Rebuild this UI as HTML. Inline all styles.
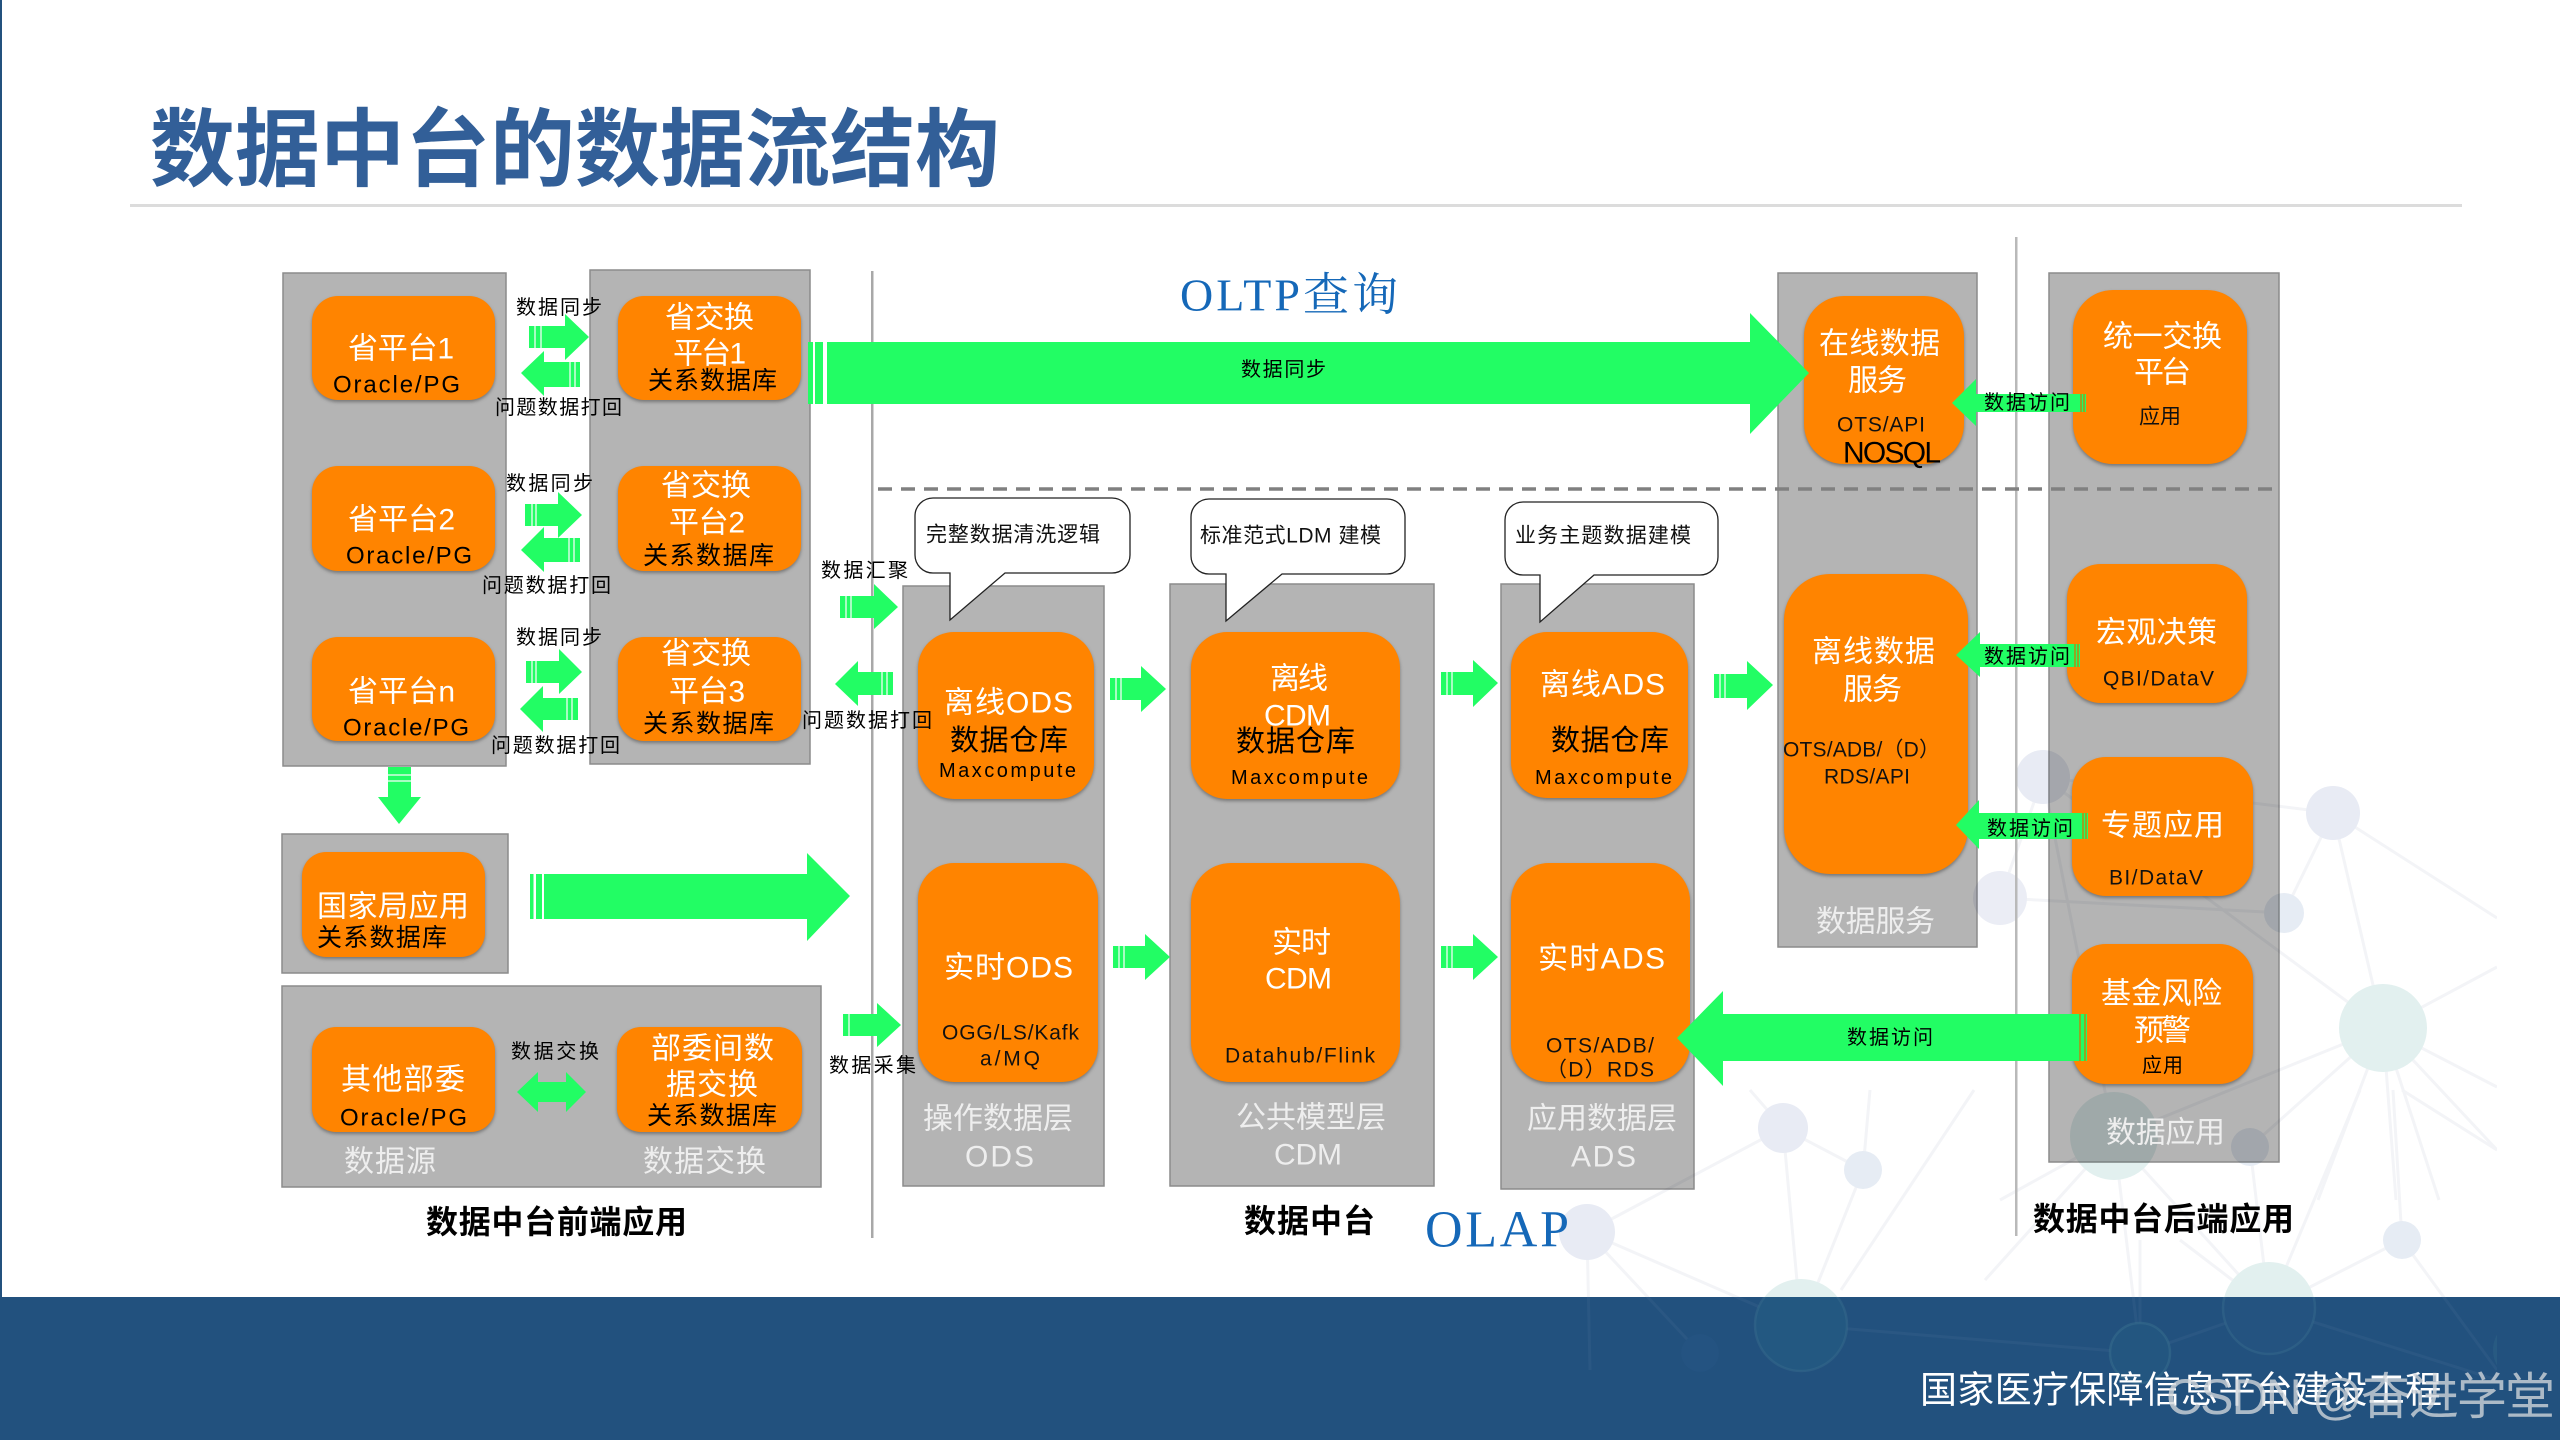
<!DOCTYPE html>
<html lang="zh-CN">
<head>
<meta charset="utf-8">
<title>数据中台的数据流结构</title>
<style>
html,body{margin:0;padding:0;background:#fff;width:2560px;height:1440px;overflow:hidden}
svg{display:block;position:absolute;left:0;top:0}
text{font-family:"Liberation Sans","Noto Sans CJK SC",sans-serif;dominant-baseline:central;transform:translateY(1px)}
.g{fill:#b4b4b4;stroke:#8b8b8b;stroke-width:1.5;mix-blend-mode:multiply}
.o{fill:#ff8400;filter:drop-shadow(0 2px 1.5px rgba(70,70,70,.55))}
.a{fill:#22fd64}
.s{stroke:#a8fcc2;stroke-width:2}
.d{stroke:#b98a10;stroke-width:1.5}
.w{fill:#fff;font-size:30px}
.wl{fill:#eee;font-size:30px}
.k{fill:#000;font-size:25px}
.l{fill:#000;font-size:20px}
.c{fill:#111;font-size:21px}
.m{fill:#111;font-size:21px}
.b{fill:#000;font-size:32px;font-weight:bold}
.bl{fill:#1568b8;font-family:"Liberation Serif","Noto Serif CJK SC",serif}
.call{fill:#fff;stroke:#222;stroke-width:1.3}
</style>
</head>
<body>
<svg width="2560" height="1440" viewBox="0 0 2560 1440" xmlns="http://www.w3.org/2000/svg">
<defs>
<clipPath id="top"><rect x="0" y="0" width="2497" height="1297"/></clipPath>
<clipPath id="bot"><rect x="0" y="1297" width="2497" height="143"/></clipPath>
<g id="netlines">
<path d="M2333 813L2383 1028M2333 813L2284 913M2333 813L2043 777M2333 813L2497 918M2383 1028L2497 967M2383 1028L2497 1087M2383 1028L2497 1150M2383 1028L2396 1200M2383 1028L2318 1200M2383 1028L2439 1200M2383 1028L2043 777M2383 1028L2250 1147M2383 1028L2114 1137M2284 913L2000 898M2043 777L2000 898M2043 777L2114 1137"/>
<path d="M1783 1128L1863 1170M1783 1128L1801 1325M1863 1170L1801 1325M1587 1232L1783 1128M1587 1232L1801 1325M1587 1232L1700 1353M1587 1232L1590 1370M1801 1325L2140 1353M1974 1090L1841 1290M1863 1170L1870 1090M1783 1128L1750 1090M2114 1137L2269 1308M2114 1137L2140 1353M2250 1147L2269 1308M2269 1308L2402 1240M2402 1240L2497 1370M2269 1308L2360 1090M2402 1240L2393 1090M2269 1308L2140 1353M2269 1308L2497 1380M2402 1090L2497 1150M2114 1137L1985 1280M2114 1137L2000 1200M2180 1240L2269 1308M2140 1353L2140 1240"/>
</g>
</defs>
<rect width="2560" height="1440" fill="#fff"/>

<!-- background network -->
<g clip-path="url(#top)">
<use href="#netlines" fill="none" stroke="#f3f4f7" stroke-width="3"/>
<circle cx="2333" cy="813" r="27" fill="#e8ebf4"/>
<circle cx="2043" cy="777" r="27" fill="#e8ebf4"/>
<circle cx="2000" cy="898" r="27" fill="#ebedf5"/>
<circle cx="2284" cy="913" r="20" fill="#e6ecf4"/>
<circle cx="2383" cy="1028" r="44" fill="#e2f0ef"/>
<circle cx="2114" cy="1136" r="44" fill="#e2f0ef"/>
<circle cx="2250" cy="1147" r="19" fill="#e6ecf4"/>
<circle cx="1783" cy="1128" r="25" fill="#e8ebf4"/>
<circle cx="1863" cy="1170" r="19" fill="#e6ecf4"/>
<circle cx="1587" cy="1232" r="28" fill="#e8ebf4"/>
<circle cx="2402" cy="1240" r="19" fill="#e6ecf4"/>
<circle cx="1801" cy="1325" r="46" fill="#e2f0ef"/>
<circle cx="2269" cy="1308" r="46" fill="#e2f0ef"/>
</g>

<!-- footer -->
<rect x="0" y="1297" width="2560" height="143" fill="#22517e"/>
<g clip-path="url(#bot)">
<use href="#netlines" fill="none" stroke="#fff" stroke-opacity=".04" stroke-width="3"/>
<circle cx="1801" cy="1325" r="46" fill="#235881" stroke="#356a8c" stroke-opacity=".5" stroke-width="2.5"/>
<circle cx="2269" cy="1308" r="46" fill="#245380" stroke="#356a8c" stroke-opacity=".5" stroke-width="2.5"/>
<circle cx="2140" cy="1353" r="30" fill="#235680" stroke="#356a8c" stroke-opacity=".6" stroke-width="2.5"/>
<circle cx="1700" cy="1353" r="19" fill="#245381"/>
<circle cx="2525" cy="1350" r="32" fill="#285a82"/>
</g>

<!-- left edge, title -->
<rect x="0" y="0" width="2" height="1297" fill="#23517e"/>
<text x="150" y="150" font-size="85" font-weight="bold" fill="#325f98" textLength="850">数据中台的数据流结构</text>
<rect x="130" y="204" width="2332" height="3" fill="#dcdcdc"/>

<!-- dividers -->
<rect x="871" y="271" width="2.5" height="967" fill="#a8a8a8"/>

<!-- gray panels -->
<rect class="g" x="283" y="273" width="223" height="493"/>
<rect class="g" x="590" y="270" width="220" height="494"/>
<rect class="g" x="282" y="834" width="226" height="139"/>
<rect class="g" x="282" y="986" width="539" height="201"/>
<rect class="g" x="903" y="586" width="201" height="600"/>
<rect class="g" x="1170" y="584" width="264" height="602"/>
<rect class="g" x="1501" y="584" width="193" height="605"/>
<rect class="g" x="1778" y="273" width="199" height="674"/>
<rect class="g" x="2049" y="273" width="230" height="889"/>
<rect x="2015" y="237" width="2.5" height="999" fill="#b9b9b9"/>

<!-- dashed -->
<line x1="878" y1="489" x2="2279" y2="489" stroke="#808080" stroke-width="3.5" stroke-dasharray="14 9"/>

<!-- callouts -->
<path class="call" d="M933 498H1112a18 18 0 0 1 18 18V555a18 18 0 0 1 -18 18H1005L950 620V573H933a18 18 0 0 1 -18 -18V516a18 18 0 0 1 18 -18Z"/>
<path class="call" d="M1209 499H1387a18 18 0 0 1 18 18V556a18 18 0 0 1 -18 18H1282L1226 621V574H1209a18 18 0 0 1 -18 -18V517a18 18 0 0 1 18 -18Z"/>
<path class="call" d="M1523 502H1700a18 18 0 0 1 18 18V557a18 18 0 0 1 -18 18H1594L1540 622V575H1523a18 18 0 0 1 -18 -18V520a18 18 0 0 1 18 -18Z"/>

<!-- orange boxes -->
<rect class="o" x="312" y="296" width="183" height="104" rx="26"/>
<rect class="o" x="312" y="466" width="183" height="105" rx="26"/>
<rect class="o" x="312" y="637" width="183" height="104" rx="26"/>
<rect class="o" x="618" y="296" width="183" height="104" rx="26"/>
<rect class="o" x="618" y="466" width="183" height="105" rx="26"/>
<rect class="o" x="618" y="637" width="183" height="104" rx="26"/>
<rect class="o" x="302" y="852" width="183" height="105" rx="24"/>
<rect class="o" x="312" y="1027" width="183" height="105" rx="24"/>
<rect class="o" x="617" y="1027" width="185" height="105" rx="24"/>
<rect class="o" x="918" y="632" width="176" height="167" rx="36"/>
<rect class="o" x="918" y="863" width="180" height="219" rx="36"/>
<rect class="o" x="1191" y="632" width="209" height="167" rx="36"/>
<rect class="o" x="1191" y="863" width="209" height="219" rx="40"/>
<rect class="o" x="1511" y="632" width="177" height="166" rx="36"/>
<rect class="o" x="1511" y="863" width="179" height="219" rx="38"/>
<rect class="o" x="1804" y="296" width="160" height="168" rx="40"/>
<rect class="o" x="1784" y="574" width="184" height="300" rx="46"/>
<rect class="o" x="2073" y="290" width="174" height="174" rx="40"/>
<rect class="o" x="2067" y="564" width="180" height="139" rx="34"/>
<rect class="o" x="2072" y="757" width="181" height="139" rx="34"/>
<rect class="o" x="2072" y="944" width="181" height="140" rx="34"/>

<!-- green arrows -->
<g class="a">
<polygon points="827,342 1750,342 1750,313 1809,373 1750,434 1750,404 827,404"/>
<rect x="808" y="342" width="5" height="62"/><rect x="815" y="342" width="8" height="62"/>
<polygon points="529,326 565,326 565,314 589,337 565,360 565,348 529,348"/>
<polygon points="580,362 544,362 544,351 521,373 544,396 544,387 580,387"/>
<polygon points="525,504 558,504 558,492 582,515 558,538 558,526 525,526"/>
<polygon points="580,538 544,538 544,527 521,550 544,572 544,562 580,562"/>
<polygon points="526,661 559,661 559,649 582,672 559,694 559,683 526,683"/>
<polygon points="578,698 543,698 543,686 520,709 543,732 543,720 578,720"/>
<polygon points="840,596 874,596 874,584 898,607 874,629 874,618 840,618"/>
<polygon points="893,672 858,672 858,661 835,684 858,706 858,695 893,695"/>
<polygon points="843,1014 877,1014 877,1003 901,1025 877,1047 877,1036 843,1036"/>
<polygon points="388,767 411,767 411,797 421,797 399,824 378,797 388,797"/>
<rect x="530" y="874" width="3.5" height="45"/><rect x="536" y="874" width="6" height="45"/>
<polygon points="544,874 807,874 807,853 850,896 807,941 807,919 544,919"/>
<polygon points="517,1092 538,1072 538,1082 566,1082 566,1072 586,1092 566,1112 566,1102 538,1102 538,1112"/>
<polygon points="1110,678 1141,678 1141,666 1166,689 1141,712 1141,700 1110,700"/>
<polygon points="1113,946 1145,946 1145,934 1170,957 1145,980 1145,968 1113,968"/>
<polygon points="1441,672 1473,672 1473,660 1498,683 1473,707 1473,695 1441,695"/>
<polygon points="1441,946 1473,946 1473,934 1498,957 1473,980 1473,968 1441,968"/>
<polygon points="1714,674 1747,674 1747,661 1773,685 1747,710 1747,698 1714,698"/>
<polygon points="2086,394 1976,394 1976,379 1952,403 1976,426 1976,412 2086,412"/>
<polygon points="2080,644 1980,644 1980,632 1956,655 1980,677 1980,667 2080,667"/>
<polygon points="2088,813 1979,813 1979,800 1956,825 1979,849 1979,839 2088,839"/>
<polygon points="2087,1014 1723,1014 1723,991 1677,1038 1723,1086 1723,1061 2087,1061"/>
</g>
<!-- tail stripes -->
<g class="s">
<path d="M535 326V348M541 326V348M532 504V526M536 504V526M532 661V683M536 661V683M575 362V387M570 362V387M574 538V562M569 538V562M572 698V720M567 698V720"/>
<path d="M846 596V618M851 596V618M887 672V695M882 672V695M849 1014V1036M1116 678V700M1121 678V700M1119 946V968M1124 946V968M1447 672V695M1452 672V695M1447 946V968M1452 946V968M1720 674V698M1725 674V698"/>
<path d="M388 775H411M388 781H411"/>
</g>
<g class="d"><path d="M2081 394V412M2084 394V412M2075 644V667M2078 644V667M2083 813V839M2086 813V839M2080 1014V1061M2085 1014V1061"/></g>

<!-- text: source -->
<text class="w" x="348" y="348" textLength="106">省平台1</text>
<text class="k" x="333" y="384" textLength="127" style="font-size:24px">Oracle/PG</text>
<text class="w" x="348" y="519" textLength="107">省平台2</text>
<text class="k" x="346" y="555" textLength="126" style="font-size:24px">Oracle/PG</text>
<text class="w" x="348" y="691" textLength="107">省平台n</text>
<text class="k" x="343" y="727" textLength="126" style="font-size:24px">Oracle/PG</text>

<text class="w" x="665" y="317" textLength="89">省交换</text>
<text class="w" x="673" y="353" textLength="73">平台1</text>
<text class="k" x="648" y="380" textLength="129">关系数据库</text>
<text class="w" x="661" y="485" textLength="90">省交换</text>
<text class="w" x="669" y="522" textLength="76">平台2</text>
<text class="k" x="643" y="555" textLength="131">关系数据库</text>
<text class="w" x="661" y="653" textLength="90">省交换</text>
<text class="w" x="669" y="691" textLength="76">平台3</text>
<text class="k" x="643" y="723" textLength="131">关系数据库</text>

<text class="l" x="516" y="307" textLength="86">数据同步</text>
<text class="l" x="495" y="407" textLength="127">问题数据打回</text>
<text class="l" x="506" y="483" textLength="87">数据同步</text>
<text class="l" x="482" y="585" textLength="129">问题数据打回</text>
<text class="l" x="516" y="637" textLength="86">数据同步</text>
<text class="l" x="491" y="745" textLength="129">问题数据打回</text>
<text class="l" x="821" y="570" textLength="87">数据汇聚</text>
<text class="l" x="802" y="720" textLength="130">问题数据打回</text>
<text class="l" x="829" y="1065" textLength="87">数据采集</text>
<text class="l" x="511" y="1051" textLength="88">数据交换</text>

<text class="w" x="317" y="906" textLength="152">国家局应用</text>
<text class="k" x="317" y="937" textLength="130">关系数据库</text>
<text class="w" x="341" y="1079" textLength="124">其他部委</text>
<text class="k" x="340" y="1117" textLength="127" style="font-size:24px">Oracle/PG</text>
<text class="w" x="651" y="1048" textLength="123">部委间数</text>
<text class="w" x="666" y="1084" textLength="92">据交换</text>
<text class="k" x="647" y="1115" textLength="130">关系数据库</text>
<text class="wl" x="344" y="1161" textLength="92">数据源</text>
<text class="wl" x="643" y="1161" textLength="123">数据交换</text>
<text class="b" x="426" y="1221" textLength="261">数据中台前端应用</text>

<!-- callout text -->
<text class="c" x="926" y="534" textLength="174">完整数据清洗逻辑</text>
<text class="c" x="1200" y="535" textLength="181">标准范式LDM 建模</text>
<text class="c" x="1515" y="535" textLength="176">业务主题数据建模</text>

<!-- ODS -->
<text class="w" x="944" y="702" textLength="129">离线ODS</text>
<text class="k" x="950" y="740" textLength="118" style="font-size:29px">数据仓库</text>
<text class="l" x="939" y="770" textLength="137">Maxcompute</text>
<text class="w" x="944" y="967" textLength="129">实时ODS</text>
<text class="m" x="942" y="1032" textLength="137">OGG/LS/Kafk</text>
<text class="m" x="980" y="1058" textLength="60">a/MQ</text>
<text class="wl" x="923" y="1118" textLength="150">操作数据层</text>
<text class="wl" x="965" y="1156" textLength="69">ODS</text>

<!-- CDM -->
<text class="w" x="1270" y="678" textLength="58">离线</text>
<text class="w" x="1264" y="715" textLength="67">CDM</text>
<text class="k" x="1236" y="741" textLength="119" style="font-size:29px">数据仓库</text>
<text class="l" x="1231" y="777" textLength="137">Maxcompute</text>
<text class="w" x="1272" y="942" textLength="59">实时</text>
<text class="w" x="1265" y="978" textLength="67">CDM</text>
<text class="m" x="1225" y="1055" textLength="150">Datahub/Flink</text>
<text class="wl" x="1236" y="1117" textLength="150">公共模型层</text>
<text class="wl" x="1274" y="1154" textLength="68">CDM</text>
<text class="b" x="1244" y="1220" textLength="131">数据中台</text>

<!-- ADS -->
<text class="w" x="1540" y="684" textLength="125">离线ADS</text>
<text class="k" x="1551" y="740" textLength="118" style="font-size:29px">数据仓库</text>
<text class="l" x="1535" y="777" textLength="137">Maxcompute</text>
<text class="w" x="1538" y="958" textLength="127">实时ADS</text>
<text class="m" x="1546" y="1045" textLength="108">OTS/ADB/</text>
<text class="m" x="1546" y="1069" textLength="108">（D）RDS</text>
<text class="wl" x="1527" y="1118" textLength="150">应用数据层</text>
<text class="wl" x="1571" y="1156" textLength="65">ADS</text>

<!-- labels on arrows -->
<text class="l" x="1241" y="369" textLength="85">数据同步</text>
<text class="l" x="1984" y="402" textLength="86">数据访问</text>
<text class="l" x="1984" y="656" textLength="86">数据访问</text>
<text class="l" x="1987" y="828" textLength="86">数据访问</text>
<text class="l" x="1847" y="1037" textLength="86">数据访问</text>

<!-- blue headers -->
<text class="bl" x="1180" y="294" font-size="46" textLength="218">OLTP查询</text>
<text class="bl" x="1425" y="1229" font-size="52" textLength="144">OLAP</text>

<!-- services -->
<text class="w" x="1819" y="343" textLength="121">在线数据</text>
<text class="w" x="1848" y="380" textLength="59">服务</text>
<text class="m" x="1837" y="424" textLength="88">OTS/API</text>
<text x="1843" y="452" font-size="30" textLength="98" fill="#000">NOSQL</text>
<text class="w" x="1812" y="651" textLength="123">离线数据</text>
<text class="w" x="1843" y="689" textLength="59">服务</text>
<text class="m" x="1783" y="749" textLength="157">OTS/ADB/（D）</text>
<text class="m" x="1824" y="776" textLength="86">RDS/API</text>
<text class="wl" x="1816" y="921" textLength="119">数据服务</text>

<!-- applications -->
<text class="w" x="2103" y="336" textLength="119">统一交换</text>
<text class="w" x="2134" y="372" textLength="57">平台</text>
<text class="m" x="2139" y="416" textLength="42">应用</text>
<text class="w" x="2096" y="632" textLength="121">宏观决策</text>
<text class="m" x="2103" y="678" textLength="111">QBI/DataV</text>
<text class="w" x="2101" y="825" textLength="123">专题应用</text>
<text class="m" x="2109" y="877" textLength="94">BI/DataV</text>
<text class="w" x="2101" y="993" textLength="121">基金风险</text>
<text class="w" x="2134" y="1030" textLength="57">预警</text>
<text class="l" x="2142" y="1065" textLength="41">应用</text>
<text class="wl" x="2106" y="1132" textLength="119">数据应用</text>
<text class="b" x="2033" y="1218" textLength="261">数据中台后端应用</text>

<!-- footer text -->
<text x="1920" y="1389" font-size="37" fill="#fff" textLength="522">国家医疗保障信息平台建设工程</text>
<text x="2166" y="1396" font-size="50" fill="#d0d4da" fill-opacity=".8" textLength="389">CSDN @奋进学堂</text>
</svg>
</body>
</html>
